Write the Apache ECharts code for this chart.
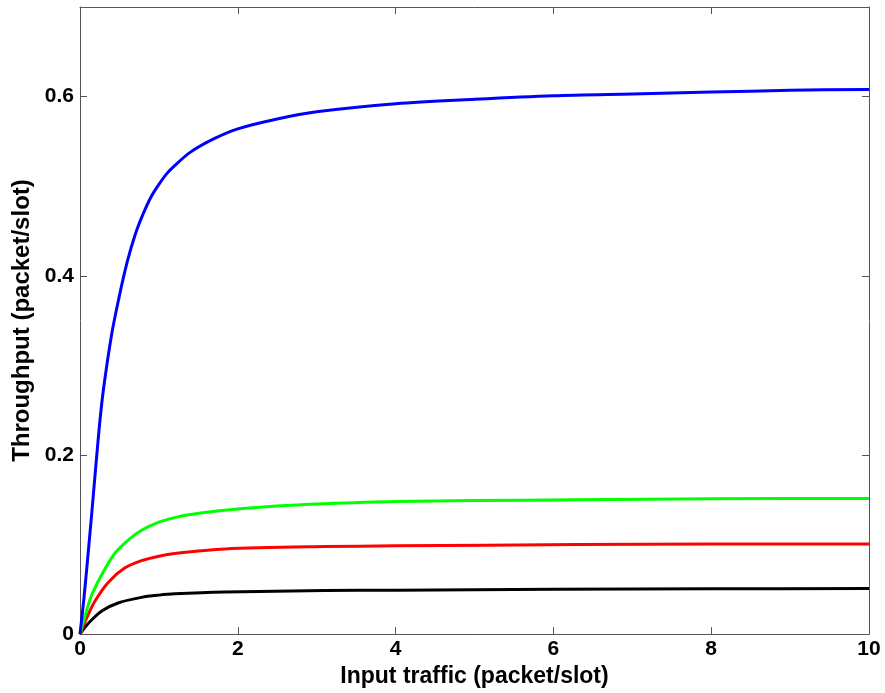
<!DOCTYPE html>
<html>
<head>
<meta charset="utf-8">
<script src="https://cdn.jsdelivr.net/npm/echarts@6/dist/echarts.min.js"></script>
<style>
  html, body { margin: 0; padding: 0; background: #fff; }
  #chart { width: 885px; height: 693px; }
</style>
</head>
<body>
<div id="chart"></div>
<script>
// Throughput vs. input traffic, four curves
const xTicks = [0, 2, 4, 6, 8, 10];
const yTicks = [0, 0.2, 0.4, 0.6];

const blueX  = [0, 0.05, 0.1, 0.15, 0.2, 0.25, 0.3, 0.4, 0.5, 0.6, 0.7, 0.8, 0.9, 1.0, 1.1, 1.2, 1.4, 1.7, 2.0, 2.5, 3.0, 4.0, 5.0, 6.0, 7.0, 8.0, 9.0, 10];
const blueY  = [0, 0.040, 0.087, 0.136, 0.187, 0.236, 0.275, 0.334, 0.378, 0.416, 0.446, 0.469, 0.488, 0.502, 0.514, 0.523, 0.538, 0.553, 0.564, 0.575, 0.583, 0.592, 0.597, 0.601, 0.603, 0.605, 0.607, 0.608];

const greenX = [0, 0.05, 0.1, 0.15, 0.28, 0.44, 0.61, 0.78, 1.0, 1.2, 1.4, 1.8, 2.5, 3.1, 4.0, 5.0, 6.3, 8.0, 10];
const greenY = [0, 0.016, 0.031, 0.044, 0.067, 0.090, 0.105, 0.116, 0.125, 0.130, 0.1335, 0.138, 0.1430, 0.1455, 0.148, 0.149, 0.150, 0.151, 0.1515];

const redX   = [0, 0.05, 0.1, 0.19, 0.36, 0.57, 0.78, 1.0, 1.2, 1.84, 3.1, 4.0, 6.3, 8.0, 10];
const redY   = [0, 0.011, 0.021, 0.037, 0.058, 0.0740, 0.082, 0.087, 0.090, 0.095, 0.0977, 0.0985, 0.100, 0.1005, 0.1006];

const blackX = [0, 0.06, 0.15, 0.28, 0.49, 0.78, 1.0, 1.2, 1.84, 3.1, 4.0, 6.0, 8.0, 10];
const blackY = [0, 0.0074, 0.016, 0.026, 0.035, 0.041, 0.0435, 0.045, 0.047, 0.0486, 0.049, 0.050, 0.0505, 0.0508];

const pairs = (xs, ys) => xs.map((x, i) => [x, ys[i]]);

const FONT = '"Liberation Sans", Arial, Helvetica, sans-serif';
const frameColor = '#555';

const lineSeries = (name, xs, ys, color) => ({
  name,
  type: 'line',
  data: pairs(xs, ys),
  showSymbol: false,
  smooth: 0.3,
  lineStyle: { color, width: 3 },
  itemStyle: { color },
  animation: false
});

// plain frame axis (top / right) with inward ticks and no labels
const frameAxis = (extra) => Object.assign({
  type: 'value',
  axisLine: { show: true, onZero: false, lineStyle: { color: frameColor, width: 1 } },
  axisTick: { show: true, inside: true, length: 7, lineStyle: { color: frameColor } },
  axisLabel: { show: false },
  splitLine: { show: false }
}, extra);

const chart = echarts.init(document.getElementById('chart'), null, { renderer: 'canvas' });

chart.setOption({
  backgroundColor: '#fff',
  animation: false,
  grid: { left: 80, right: 16, top: 7, bottom: 53, containLabel: false },
  xAxis: [
    {
      type: 'value',
      min: xTicks[0],
      max: xTicks[xTicks.length - 1],
      interval: xTicks[1] - xTicks[0],
      name: 'Input traffic (packet/slot)',
      nameLocation: 'middle',
      nameGap: 26,
      nameTextStyle: { fontFamily: FONT, fontWeight: 'bold', fontSize: 23, color: '#000' },
      axisLine: { show: true, onZero: false, lineStyle: { color: frameColor, width: 1 } },
      axisTick: { show: true, inside: true, length: 7, lineStyle: { color: frameColor } },
      axisLabel: { fontFamily: FONT, fontWeight: 'bold', fontSize: 21, color: '#000', margin: 5 },
      splitLine: { show: false }
    },
    frameAxis({
      position: 'top',
      min: xTicks[0],
      max: xTicks[xTicks.length - 1],
      interval: xTicks[1] - xTicks[0]
    })
  ],
  yAxis: [
    {
      type: 'value',
      min: 0,
      max: 0.7,
      interval: yTicks[1] - yTicks[0],
      name: 'Throughput (packet/slot)',
      nameLocation: 'middle',
      nameGap: 44,
      nameTextStyle: { fontFamily: FONT, fontWeight: 'bold', fontSize: 24, color: '#000' },
      axisLine: { show: true, onZero: false, lineStyle: { color: frameColor, width: 1 } },
      axisTick: { show: true, inside: true, length: 7, lineStyle: { color: frameColor } },
      axisLabel: {
        fontFamily: FONT, fontWeight: 'bold', fontSize: 21, color: '#000', margin: 6,
        showMaxLabel: false,
        formatter: v => (yTicks.some(t => Math.abs(t - v) < 1e-9) ? String(+v.toFixed(1)) : '')
      },
      splitLine: { show: false }
    },
    frameAxis({
      position: 'right',
      min: 0,
      max: 0.7,
      interval: yTicks[1] - yTicks[0]
    })
  ],
  series: [
    lineSeries('black', blackX, blackY, '#000000'),
    lineSeries('red', redX, redY, '#ff0000'),
    lineSeries('green', greenX, greenY, '#00ff00'),
    lineSeries('blue', blueX, blueY, '#0000ff')
  ]
});
</script>
</body>
</html>
